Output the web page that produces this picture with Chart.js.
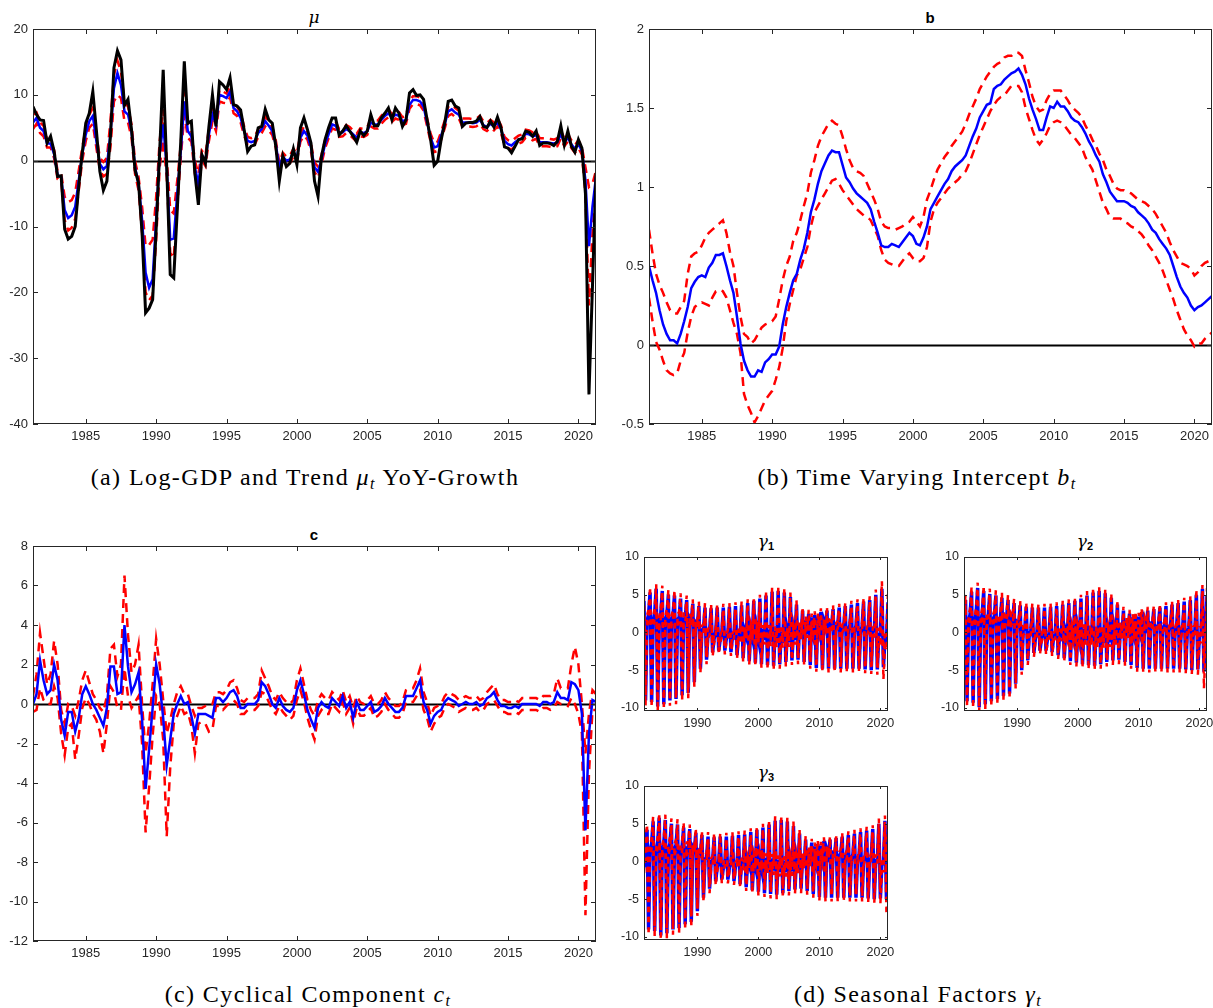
<!DOCTYPE html>
<html>
<head>
<meta charset="utf-8">
<script src="https://cdn.jsdelivr.net/npm/chart.js@4.4.0/dist/chart.umd.min.js"></script>
<style>
  html, body { margin: 0; padding: 0; background: #fff; }
  body { position: relative; width: 1213px; height: 1008px; overflow: hidden; }
  canvas { position: absolute; }
  .ttl { position: absolute; transform: translate(-50%, -50%); font: bold 15px 'Liberation Sans', Arial, sans-serif; color: #000; white-space: nowrap; }
  .ttl .greek { font: italic 17px 'DejaVu Serif', 'Liberation Serif', serif; font-weight: normal; }
  .ttl sub { font: bold 11px 'Liberation Sans', Arial, sans-serif; vertical-align: -3px; }
  .cap { position: absolute; transform: translate(-50%, -50%); font: 24px 'Liberation Serif', 'Times New Roman', serif; letter-spacing: 1.4px; color: #000; white-space: nowrap; }
  .cap sub { font-size: 16px; vertical-align: -4px; }
</style>
</head>
<body>
<div class="ttl" style="left:314px; top:17px;"><span class="greek">μ</span></div>
<div class="ttl" style="left:930px; top:17px;">b</div>
<div class="ttl" style="left:314px; top:534px;">c</div>
<div class="ttl" style="left:766px; top:541px;"><span class="greek">γ</span><sub>1</sub></div>
<div class="ttl" style="left:1085px; top:541px;"><span class="greek">γ</span><sub>2</sub></div>
<div class="ttl" style="left:766px; top:772px;"><span class="greek">γ</span><sub>3</sub></div>

<div class="cap" style="left:305px; top:478px;">(a) Log-GDP and Trend <i>μ<sub>t</sub></i> YoY-Growth</div>
<div class="cap" style="left:917px; top:478px;">(b) Time Varying Intercept <i>b<sub>t</sub></i></div>
<div class="cap" style="left:308px; top:995px;">(c) Cyclical Component <i>c<sub>t</sub></i></div>
<div class="cap" style="left:918px; top:995px;">(d) Seasonal Factors <i>γ<sub>t</sub></i></div>

<canvas id="chartMu"></canvas>
<canvas id="chartB"></canvas>
<canvas id="chartC"></canvas>
<canvas id="chartG1"></canvas>
<canvas id="chartG2"></canvas>
<canvas id="chartG3"></canvas>

<script>
// quarterly series, first point 1981Q2 (x = 1981.25), last 2021Q2 (x = 2021.25)
const START_YEAR = 1981.25;

// tick labels
const yearTicks = [1985, 1990, 1995, 2000, 2005, 2010, 2015, 2020];
const decadeTicks = [1990, 2000, 2010, 2020];
const muTicks = [-40, -30, -20, -10, 0, 10, 20];
const bTicks = [-0.5, 0, 0.5, 1, 1.5, 2];
const cTicks = [-12, -10, -8, -6, -4, -2, 0, 2, 4, 6, 8];
const gammaTicks = [-10, -5, 0, 5, 10];

// (a) log-GDP YoY growth (black) and trend mu (blue) with bands (red)
const gdpGrowth = [
  8.2, 7.0, 6.2, 6.1, 2.7, 3.7, 1.4, -2.4, -2.3, -10.4, -11.9, -11.5, -10.0, -3.9, 1.2, // 1981-84
  5.7, 7.2, 10.5, 4.7, -1.6, -4.5, -3.1, 3.7, 14.1, 16.7, 15.3, 8.4, 9.3, 4.7, -1.4, -3.4, // 1985-88
  -11.0, -23.1, -22.4, -21.1, -10.5, 1.5, 13.8, -0.9, -17.3, -17.8, -7.5, 3.0, 15.1, 5.7, 6.0, -1.9, // 1989-92
  -6.7, 0.9, -0.4, 5.2, 10.0, 5.2, 12.0, 11.5, 10.8, 12.6, 8.5, 8.3, 7.7, 4.7, 1.4, 2.2, // 1993-96
  2.4, 5.0, 5.2, 7.8, 6.2, 5.7, 2.2, -3.1, 0.7, -0.9, -0.4, 1.8, -0.6, 5.0, 6.5, 4.7, // 1997-2000
  2.7, -3.1, -5.4, 0.7, 3.2, 5.0, 6.5, 6.5, 3.9, 4.5, 5.3, 4.5, 3.7, 2.8, 4.5, 3.8, // 2001-04
  4.5, 7.0, 5.3, 5.3, 6.5, 7.2, 8.0, 6.2, 8.0, 7.2, 5.2, 6.2, 10.3, 10.8, 9.9, 10.0, // 2005-08
  9.3, 6.2, 3.2, -0.7, -0.1, 3.2, 5.7, 9.0, 9.2, 8.3, 8.0, 5.2, 5.7, 5.8, 5.8, 6.0, // 2009-12
  6.7, 5.2, 5.0, 6.0, 5.1, 6.6, 5.0, 2.1, 1.9, 1.2, 2.2, 3.2, 3.3, 4.5, 4.3, 3.7, // 2013-16
  4.5, 2.3, 2.7, 2.7, 2.6, 2.3, 2.9, 5.3, 2.4, 4.5, 2.2, 1.3, 3.2, 1.9, -5.0, -35.5, // 2017-20
  -19.0, -1.9 // 2021
];
const trendMu = [
  5.8, 6.5, 5.0, 4.5, 2.6, 2.6, 1.0, -2.2, -2.5, -7.5, -8.7, -8.3, -7.0, -3.0, 1.0,
  4.0, 6.0, 6.8, 3.0, -0.5, -1.3, -0.8, 4.0, 11.0, 13.3, 11.5, 7.5, 7.0, 4.5, -1.0, -3.5,
  -9.0, -17.0, -19.3, -18.0, -9.0, 1.0, 5.5, -1.0, -12.0, -11.8, -5.0, 1.5, 9.0, 4.5, 3.7, -1.0,
  -3.5, 0.8, 0.0, 4.0, 7.0, 5.5, 10.0, 9.8, 9.5, 10.5, 8.0, 7.5, 6.5, 4.5, 3.0, 2.8,
  3.0, 4.2, 4.8, 6.0, 5.3, 4.5, 2.5, -1.0, 0.6, 0.0, 0.2, 1.2, 0.5, 3.5, 4.5, 3.8,
  2.0, -1.0, -1.7, 0.2, 2.5, 4.0, 5.5, 5.3, 4.2, 4.3, 4.8, 4.5, 4.0, 3.5, 4.3, 4.2,
  4.5, 5.8, 5.5, 5.5, 6.2, 6.8, 7.2, 6.5, 7.0, 6.8, 6.0, 6.2, 8.5, 9.2, 9.2, 9.0,
  8.2, 5.8, 3.5, 2.0, 2.2, 3.8, 5.5, 7.5, 7.8, 7.3, 7.0, 5.8, 5.8, 5.8, 5.7, 5.8,
  6.2, 5.4, 5.1, 5.6, 5.2, 5.8, 4.8, 3.0, 2.5, 2.3, 2.8, 3.2, 3.4, 4.1, 4.0, 3.7,
  3.9, 2.8, 2.8, 2.8, 2.7, 2.6, 2.8, 4.0, 2.8, 3.5, 2.5, 1.8, 2.5, 1.5, -3.0, -13.0,
  -7.0, -2.5
];
const muUpper = [
  7.0, 7.3, 5.8, 5.3, 3.2, 3.2, 1.6, -1.6, -1.9, -5.5, -6.3, -6.0, -4.8, -1.5, 2.0,
  5.0, 7.0, 8.0, 4.0, 0.4, -0.2, 0.4, 6.0, 13.0, 15.2, 13.5, 9.0, 8.2, 5.5, 0.0, -2.5,
  -7.0, -13.0, -12.8, -12.0, -5.5, 3.0, 7.8, 0.5, -7.5, -8.0, -3.0, 2.5, 10.5, 5.5, 4.5, 0.0,
  -2.0, 1.5, 0.8, 5.0, 8.0, 6.5, 10.8, 10.5, 10.2, 11.2, 8.8, 8.2, 7.2, 5.2, 3.6, 3.4,
  3.6, 4.8, 5.4, 6.7, 6.0, 5.1, 3.1, -0.3, 1.2, 0.6, 0.8, 1.8, 1.1, 4.1, 5.2, 4.4,
  2.6, -0.3, -0.9, 0.9, 3.1, 4.6, 6.1, 5.9, 4.8, 4.9, 5.4, 5.1, 4.6, 4.1, 4.9, 4.8,
  5.1, 6.4, 6.1, 6.1, 6.8, 7.4, 7.8, 7.1, 7.6, 7.4, 6.6, 6.8, 9.1, 9.8, 9.8, 9.6,
  8.8, 6.4, 4.1, 2.7, 2.9, 4.4, 6.1, 8.2, 8.5, 8.0, 7.6, 6.4, 6.4, 6.4, 6.3, 6.4,
  6.8, 6.0, 5.7, 6.2, 5.8, 6.4, 5.4, 3.6, 3.1, 2.9, 3.4, 3.8, 4.0, 4.7, 4.6, 4.3,
  4.5, 3.4, 3.4, 3.4, 3.3, 3.2, 3.4, 4.6, 3.4, 4.1, 3.1, 2.4, 3.1, 2.1, -1.0, -4.0,
  -3.5, -1.5
];
const muLower = [
  4.8, 5.6, 4.2, 3.7, 2.0, 2.0, 0.4, -2.8, -3.1, -9.0, -10.6, -10.2, -8.8, -4.5, 0.0,
  3.0, 5.0, 5.6, 2.0, -1.4, -2.4, -2.0, 2.0, 9.0, 10.0, 9.5, 6.0, 5.8, 3.5, -2.0, -4.5,
  -11.0, -20.0, -21.2, -20.5, -12.0, -1.0, 3.2, -2.5, -14.0, -14.8, -7.0, 0.5, 7.0, 3.5, 2.9, -2.0,
  -5.0, 0.1, -0.8, 3.0, 6.0, 4.5, 9.0, 8.8, 8.7, 9.6, 7.2, 6.8, 5.8, 3.8, 2.4, 2.2,
  2.4, 3.6, 4.2, 5.2, 4.6, 3.9, 1.9, -1.7, 0.0, -0.6, -0.4, 0.6, -0.1, 2.9, 3.8, 3.2,
  1.4, -1.7, -2.6, -0.5, 1.9, 3.4, 4.9, 4.7, 3.6, 3.7, 4.2, 3.9, 3.4, 2.9, 3.7, 3.6,
  3.9, 5.2, 4.9, 4.9, 5.6, 6.2, 6.6, 5.9, 6.4, 6.2, 5.4, 5.6, 7.9, 8.6, 8.6, 8.4,
  7.6, 5.2, 2.9, 1.3, 1.5, 3.2, 4.9, 6.8, 7.1, 6.6, 6.4, 5.2, 5.2, 5.2, 5.1, 5.2,
  5.6, 4.8, 4.5, 5.0, 4.6, 5.2, 4.2, 2.4, 1.9, 1.7, 2.2, 2.6, 2.8, 3.5, 3.4, 3.1,
  3.3, 2.2, 2.2, 2.2, 2.1, 2.0, 2.2, 3.4, 2.2, 2.9, 1.9, 1.2, 1.9, 0.9, -5.0, -22.0,
  -11.0, -3.5
];

// (b) time varying intercept
const interceptB = [
  0.50, 0.41, 0.33, 0.22, 0.13, 0.07, 0.03, 0.03, 0.01, 0.07, 0.15, 0.24, 0.36, 0.40, 0.43,
  0.44, 0.43, 0.49, 0.52, 0.57, 0.57, 0.58, 0.50, 0.41, 0.33, 0.18, 0.01, -0.10, -0.16, -0.20, -0.20,
  -0.16, -0.17, -0.11, -0.09, -0.06, -0.06, -0.01, 0.13, 0.24, 0.33, 0.41, 0.45, 0.54, 0.61, 0.71, 0.84,
  0.92, 1.02, 1.10, 1.15, 1.20, 1.23, 1.22, 1.22, 1.14, 1.06, 1.03, 0.99, 0.96, 0.94, 0.92, 0.90,
  0.86, 0.78, 0.71, 0.63, 0.62, 0.62, 0.64, 0.63, 0.62, 0.65, 0.68, 0.71, 0.69, 0.64, 0.63, 0.68,
  0.75, 0.86, 0.90, 0.94, 0.98, 1.02, 1.05, 1.10, 1.13, 1.15, 1.17, 1.20, 1.26, 1.32, 1.37, 1.44,
  1.48, 1.52, 1.53, 1.62, 1.64, 1.65, 1.68, 1.70, 1.72, 1.73, 1.75, 1.71, 1.65, 1.56, 1.49, 1.43,
  1.36, 1.36, 1.44, 1.51, 1.50, 1.54, 1.51, 1.51, 1.48, 1.44, 1.42, 1.41, 1.38, 1.34, 1.29, 1.25,
  1.20, 1.16, 1.08, 1.03, 0.97, 0.94, 0.91, 0.91, 0.91, 0.90, 0.88, 0.87, 0.84, 0.82, 0.80, 0.77,
  0.73, 0.71, 0.67, 0.64, 0.61, 0.57, 0.50, 0.43, 0.37, 0.33, 0.30, 0.25, 0.22, 0.24, 0.25, 0.27,
  0.29, 0.31
];
const bUpper = [
  0.73, 0.58, 0.45, 0.38, 0.33, 0.27, 0.22, 0.20, 0.20, 0.24, 0.28, 0.45, 0.56, 0.58, 0.59,
  0.63, 0.68, 0.71, 0.73, 0.75, 0.77, 0.79, 0.71, 0.59, 0.50, 0.33, 0.18, 0.07, 0.05, 0.01, 0.03,
  0.07, 0.11, 0.13, 0.14, 0.15, 0.18, 0.29, 0.41, 0.50, 0.56, 0.66, 0.71, 0.79, 0.88, 0.96, 1.09,
  1.17, 1.26, 1.32, 1.36, 1.40, 1.42, 1.40, 1.39, 1.32, 1.24, 1.17, 1.12, 1.10, 1.09, 1.07, 1.02,
  0.97, 0.92, 0.86, 0.78, 0.75, 0.74, 0.74, 0.73, 0.74, 0.75, 0.77, 0.78, 0.81, 0.78, 0.75, 0.81,
  0.92, 0.98, 1.05, 1.11, 1.15, 1.19, 1.22, 1.26, 1.29, 1.32, 1.35, 1.40, 1.46, 1.51, 1.56, 1.62,
  1.66, 1.70, 1.73, 1.76, 1.78, 1.79, 1.82, 1.83, 1.83, 1.85, 1.85, 1.83, 1.74, 1.66, 1.57, 1.51,
  1.48, 1.49, 1.55, 1.59, 1.61, 1.61, 1.61, 1.58, 1.55, 1.51, 1.49, 1.47, 1.44, 1.39, 1.35, 1.30,
  1.26, 1.21, 1.17, 1.11, 1.07, 1.02, 0.99, 0.98, 0.98, 0.97, 0.96, 0.94, 0.92, 0.91, 0.90, 0.88,
  0.86, 0.83, 0.79, 0.75, 0.71, 0.65, 0.60, 0.56, 0.52, 0.51, 0.50, 0.48, 0.44, 0.46, 0.50, 0.52,
  0.53, 0.55
];
const bLower = [
  0.30, 0.15, 0.02, -0.03, -0.10, -0.16, -0.18, -0.19, -0.18, -0.10, -0.05, 0.08, 0.18, 0.24, 0.26,
  0.27, 0.26, 0.25, 0.30, 0.34, 0.35, 0.34, 0.30, 0.22, 0.14, 0.07, -0.05, -0.31, -0.38, -0.43, -0.49,
  -0.45, -0.40, -0.35, -0.32, -0.29, -0.22, -0.14, -0.02, 0.15, 0.26, 0.35, 0.44, 0.48, 0.55, 0.62, 0.75,
  0.84, 0.88, 0.92, 0.96, 1.00, 1.04, 1.05, 1.02, 0.98, 0.95, 0.92, 0.89, 0.86, 0.84, 0.82, 0.81,
  0.79, 0.74, 0.69, 0.60, 0.54, 0.52, 0.51, 0.50, 0.50, 0.53, 0.56, 0.58, 0.55, 0.53, 0.53, 0.55,
  0.62, 0.78, 0.86, 0.90, 0.93, 0.96, 0.99, 1.01, 1.03, 1.05, 1.08, 1.10, 1.15, 1.21, 1.27, 1.33,
  1.38, 1.43, 1.48, 1.52, 1.55, 1.57, 1.58, 1.61, 1.64, 1.64, 1.64, 1.60, 1.50, 1.43, 1.36, 1.30,
  1.27, 1.30, 1.34, 1.39, 1.41, 1.42, 1.41, 1.39, 1.36, 1.33, 1.31, 1.28, 1.25, 1.19, 1.15, 1.11,
  1.04, 0.97, 0.90, 0.86, 0.81, 0.80, 0.80, 0.80, 0.78, 0.77, 0.75, 0.74, 0.72, 0.70, 0.67, 0.63,
  0.60, 0.56, 0.52, 0.47, 0.41, 0.35, 0.29, 0.22, 0.16, 0.10, 0.06, 0.03, -0.01, 0.01, 0.01, 0.04,
  0.06, 0.08
];

// (c) cyclical component
const cycleC = [
  0.0, 0.5, 2.2, 1.2, 0.5, 0.7, 2.0, 1.2, -0.8, -1.6, -0.4, -0.4, -1.4, -0.7, 0.5,
  0.9, 0.5, 0.0, -0.3, -0.7, -1.1, -0.2, 1.9, 1.9, 0.5, 0.6, 4.0, 1.9, 0.6, 1.0, 1.6,
  -0.8, -4.3, -2.3, -0.2, 2.0, 1.0, -0.7, -3.1, -1.8, -0.5, 0.0, 0.4, 0.0, 0.1, -0.6, -1.5,
  -0.5, -0.5, -0.5, -0.6, -0.7, 0.3, 0.3, 0.1, 0.3, 0.6, 0.7, 0.4, -0.2, -0.2, 0.0, 0.0,
  0.0, 0.2, 1.1, 0.9, 0.5, 0.0, -0.2, 0.3, -0.1, -0.3, -0.4, -0.2, 0.7, 1.2, 0.5, -0.3,
  -0.8, -1.2, -0.2, 0.1, -0.1, -0.2, 0.3, 0.1, -0.1, 0.4, -0.2, 0.1, -0.7, 0.1, -0.3, -0.3,
  -0.1, 0.1, -0.4, -0.3, -0.1, 0.3, 0.0, -0.2, -0.4, -0.4, -0.2, 0.4, 0.4, 0.4, 0.8, 1.2,
  0.1, -0.3, -1.0, -0.6, -0.4, -0.3, 0.1, 0.3, 0.2, 0.1, -0.1, 0.0, 0.1, 0.0, 0.0, 0.1,
  -0.1, 0.0, 0.3, 0.4, 0.6, 0.2, -0.1, -0.1, -0.2, -0.2, -0.1, -0.2, 0.0, 0.0, 0.0, 0.0,
  0.0, -0.1, 0.1, 0.1, 0.0, 0.1, 0.6, 0.3, 0.3, 0.2, 1.1, 1.0, 0.7, -0.5, -6.4, -1.5,
  0.2, 0.1
];
const cUpper = [
  0.4, 1.5, 3.6, 2.3, 1.0, 1.5, 3.2, 2.0, -0.3, -1.0, 0.0, -0.1, -0.6, 0.2, 1.2,
  1.7, 1.1, 0.5, 0.2, -0.2, -0.4, 0.4, 2.8, 3.0, 1.4, 2.0, 6.5, 3.5, 1.6, 2.0, 3.0,
  0.0, -2.5, -1.0, 1.0, 3.3, 2.0, 0.2, -1.5, -0.8, 0.0, 0.6, 0.9, 0.5, 0.5, -0.1, -0.6,
  -0.2, -0.2, -0.1, 0.0, 0.0, 0.6, 0.6, 0.5, 0.7, 1.1, 1.2, 0.8, 0.2, 0.1, 0.3, 0.3,
  0.3, 0.5, 1.7, 1.3, 0.9, 0.4, 0.2, 0.6, 0.3, 0.1, 0.0, 0.2, 1.2, 1.8, 1.0, 0.2,
  -0.3, -0.6, 0.2, 0.5, 0.3, 0.2, 0.6, 0.4, 0.2, 0.7, 0.1, 0.4, -0.2, 0.4, 0.1, 0.0,
  0.2, 0.4, 0.0, 0.0, 0.2, 0.6, 0.3, 0.1, -0.1, -0.1, 0.1, 0.7, 0.8, 0.8, 1.2, 1.8,
  0.6, 0.1, -0.6, -0.2, -0.1, 0.0, 0.4, 0.6, 0.5, 0.4, 0.2, 0.3, 0.4, 0.3, 0.3, 0.4,
  0.2, 0.3, 0.6, 0.8, 1.0, 0.5, 0.2, 0.2, 0.1, 0.1, 0.2, 0.1, 0.3, 0.3, 0.3, 0.3,
  0.3, 0.2, 0.4, 0.4, 0.4, 0.5, 1.3, 0.8, 0.8, 0.8, 2.0, 2.9, 2.0, 0.0, -2.5, -0.5,
  0.7, 0.5
];
const cLower = [
  -0.4, -0.3, 0.8, 0.2, 0.0, 0.0, 0.9, 0.3, -1.5, -2.6, -1.2, -1.0, -2.8, -1.6, -0.2,
  0.3, 0.0, -0.5, -0.8, -1.4, -2.5, -1.0, 0.9, 0.6, -0.2, -0.3, 1.8, 0.4, -0.2, 0.1, 0.4,
  -2.0, -6.5, -4.2, -1.6, 0.4, 0.0, -1.8, -6.7, -3.2, -1.0, -0.6, -0.1, -0.5, -0.4, -1.1, -2.5,
  -1.0, -0.9, -1.0, -1.4, -1.3, -0.1, -0.1, -0.3, -0.1, 0.1, 0.2, 0.0, -0.5, -0.5, -0.3, -0.3,
  -0.3, -0.1, 0.6, 0.5, 0.1, -0.3, -0.5, -0.1, -0.4, -0.6, -0.8, -0.6, 0.2, 0.7, 0.1, -0.7,
  -1.3, -1.8, -0.6, -0.3, -0.5, -0.5, 0.0, -0.2, -0.4, 0.1, -0.5, -0.2, -1.0, -0.2, -0.6, -0.6,
  -0.4, -0.2, -0.7, -0.6, -0.4, 0.0, -0.3, -0.5, -0.7, -0.7, -0.5, 0.1, 0.1, 0.1, 0.4, 0.7,
  -0.3, -0.7, -1.4, -1.0, -0.7, -0.6, -0.2, 0.0, -0.1, -0.2, -0.4, -0.3, -0.2, -0.3, -0.3, -0.2,
  -0.4, -0.3, 0.0, 0.1, 0.2, -0.1, -0.4, -0.4, -0.5, -0.5, -0.4, -0.5, -0.3, -0.3, -0.3, -0.3,
  -0.3, -0.4, -0.2, -0.2, -0.3, -0.2, 0.1, 0.0, 0.0, -0.1, 0.3, 0.0, -0.5, -1.5, -10.7, -3.5,
  -0.3, -0.3
];

// (d) seasonal factors gamma_1..3
const gamma1 = [
  4.2, -9.0, 1.5, 2.4, 5.3, -9.2, 1.3, 2.6, 5.8, -9.8, 1.4, 2.5, 5.5, -9.5, 1.5,
  2.4, 5.0, -9.0, 1.6, 2.2, 4.9, -8.8, 1.7, 2.0, 4.5, -8.3, 1.8, 1.8, 4.3, -8.0, 1.9,
  1.5, 3.8, -6.6, 1.3, 1.0, 3.5, -4.8, 0.3, 0.5, 3.3, -3.6, -0.2, 0.2, 3.2, -2.6, -0.8,
  0.0, 3.3, -2.4, -0.9, -0.1, 3.3, -2.4, -0.8, -0.2, 3.4, -2.6, -0.6, -0.3, 3.5, -3.0, -0.2,
  -0.4, 3.6, -3.4, 0.2, -0.5, 3.9, -3.8, 0.4, -0.6, 4.2, -4.0, 0.4, -0.8, 4.5, -4.2, 0.5,
  -1.0, 4.9, -4.3, 0.4, -1.2, 5.4, -4.4, 0.2, -1.4, 5.5, -4.2, 0.1, -1.4, 5.3, -3.9, 0.0,
  -1.3, 4.7, -3.7, 0.3, -1.0, 3.7, -3.6, 0.9, -0.6, 2.9, -3.9, 1.6, -0.2, 2.5, -4.3, 2.0,
  0.3, 2.3, -4.7, 2.1, 0.6, 2.7, -4.8, 1.5, 0.8, 2.9, -4.8, 1.1, 0.9, 3.1, -4.8, 0.8,
  1.0, 3.3, -4.8, 0.5, 1.0, 3.5, -4.8, 0.3, 1.0, 3.7, -4.8, 0.1, 0.9, 3.9, -4.8, 0.0,
  0.8, 4.1, -4.9, 0.0, 0.6, 4.3, -5.0, 0.1, 0.2, 5.0, -4.9, -0.3, -0.3, 5.8, -4.6, -0.9,
  -1.0, 4.0
];
const gamma1Upper = [
  4.9, -8.3, 2.2, 3.1, 6.0, -8.5, 2.0, 3.3, 6.4, -9.1, 2.1, 3.2, 6.2, -8.8, 2.2,
  3.1, 5.7, -8.3, 2.3, 2.9, 5.6, -8.1, 2.4, 2.7, 5.2, -7.6, 2.5, 2.5, 4.9, -7.3, 2.5,
  2.1, 4.4, -6.0, 1.9, 1.6, 4.1, -4.2, 0.9, 1.1, 3.9, -3.0, 0.4, 0.8, 3.8, -2.0, -0.2,
  0.5, 3.8, -1.9, -0.4, 0.4, 3.8, -1.9, -0.3, 0.3, 3.9, -2.1, -0.1, 0.2, 4.0, -2.5, 0.3,
  0.1, 4.1, -2.9, 0.7, 0.0, 4.4, -3.3, 0.9, -0.1, 4.7, -3.5, 0.9, -0.3, 5.0, -3.7, 1.0,
  -0.4, 5.5, -3.7, 1.0, -0.6, 6.0, -3.8, 0.8, -0.8, 6.1, -3.6, 0.7, -0.8, 5.9, -3.3, 0.6,
  -0.7, 5.3, -3.1, 0.9, -0.4, 4.3, -3.0, 1.5, -0.1, 3.4, -3.4, 2.1, 0.3, 3.0, -3.8, 2.5,
  0.8, 2.8, -4.2, 2.6, 1.1, 3.2, -4.3, 2.0, 1.3, 3.4, -4.3, 1.6, 1.4, 3.6, -4.3, 1.3,
  1.5, 3.8, -4.3, 1.0, 1.5, 4.0, -4.3, 0.8, 1.5, 4.2, -4.3, 0.6, 1.4, 4.4, -4.3, 0.5,
  1.3, 4.6, -4.4, 0.5, 1.1, 4.8, -4.5, 0.6, 0.9, 5.7, -4.2, 0.4, 0.7, 6.8, -3.6, 0.1,
  0.4, 5.4
];
const gamma1Lower = [
  3.5, -9.7, 0.8, 1.7, 4.6, -9.9, 0.6, 1.9, 5.2, -10.4, 0.7, 1.8, 4.8, -10.2, 0.8,
  1.7, 4.3, -9.7, 0.9, 1.5, 4.2, -9.5, 1.0, 1.3, 3.8, -9.0, 1.1, 1.1, 3.7, -8.7, 1.3,
  0.9, 3.2, -7.2, 0.7, 0.4, 2.9, -5.4, -0.3, -0.1, 2.7, -4.2, -0.8, -0.4, 2.6, -3.2, -1.4,
  -0.5, 2.8, -2.9, -1.4, -0.6, 2.8, -2.9, -1.3, -0.7, 2.9, -3.1, -1.1, -0.8, 3.0, -3.5, -0.7,
  -0.9, 3.1, -3.9, -0.3, -1.0, 3.4, -4.3, -0.1, -1.1, 3.7, -4.5, -0.1, -1.3, 4.0, -4.7, 0.0,
  -1.6, 4.3, -4.9, -0.2, -1.8, 4.8, -5.0, -0.4, -2.0, 4.9, -4.8, -0.5, -2.0, 4.7, -4.5, -0.6,
  -1.9, 4.1, -4.3, -0.3, -1.6, 3.1, -4.2, 0.3, -1.1, 2.4, -4.4, 1.1, -0.7, 2.0, -4.8, 1.5,
  -0.2, 1.8, -5.2, 1.6, 0.1, 2.2, -5.3, 1.0, 0.3, 2.4, -5.3, 0.6, 0.4, 2.6, -5.3, 0.3,
  0.5, 2.8, -5.3, 0.0, 0.5, 3.0, -5.3, -0.2, 0.5, 3.2, -5.3, -0.4, 0.4, 3.4, -5.3, -0.5,
  0.3, 3.6, -5.4, -0.5, 0.1, 3.8, -5.5, -0.4, -0.5, 4.3, -5.6, -1.0, -1.3, 4.8, -6.2, -1.9,
  -2.4, 2.6
];
const gamma2 = [
  2.3, 4.3, -9.1, 1.5, 2.4, 5.4, -9.3, 1.3, 2.6, 5.9, -9.9, 1.4, 2.5, 5.5, -9.5,
  1.5, 2.4, 5.1, -9.1, 1.6, 2.2, 4.9, -8.8, 1.7, 2.0, 4.6, -8.4, 1.8, 1.8, 4.3, -8.1,
  1.9, 1.5, 3.9, -6.8, 1.3, 1.0, 3.6, -5.0, 0.3, 0.5, 3.4, -3.7, -0.2, 0.2, 3.3, -2.7,
  -0.8, 0.0, 3.3, -2.4, -0.9, -0.1, 3.3, -2.4, -0.8, -0.2, 3.4, -2.6, -0.6, -0.3, 3.5, -3.0,
  -0.2, -0.4, 3.7, -3.4, 0.2, -0.5, 3.9, -3.8, 0.4, -0.6, 4.2, -4.0, 0.4, -0.8, 4.5, -4.2,
  0.5, -1.0, 4.9, -4.3, 0.4, -1.2, 5.3, -4.4, 0.2, -1.4, 5.5, -4.2, 0.1, -1.4, 5.2, -3.9,
  0.0, -1.3, 4.6, -3.7, 0.3, -1.0, 3.7, -3.6, 0.9, -0.6, 2.9, -3.9, 1.6, -0.2, 2.5, -4.3,
  2.0, 0.3, 2.3, -4.7, 2.1, 0.6, 2.7, -4.8, 1.5, 0.8, 2.9, -4.8, 1.1, 0.9, 3.1, -4.8,
  0.8, 1.0, 3.3, -4.8, 0.5, 1.0, 3.5, -4.8, 0.3, 1.0, 3.7, -4.8, 0.1, 0.9, 3.9, -4.8,
  0.0, 0.8, 4.1, -4.9, 0.0, 0.6, 4.3, -5.0, 0.1, 0.2, 5.0, -4.9, -0.3, -0.3, 5.8, -5.2,
  -0.9, 4.9
];
const gamma2Upper = [
  3.0, 5.0, -8.4, 2.2, 3.1, 6.1, -8.6, 2.0, 3.3, 6.6, -9.2, 2.1, 3.2, 6.2, -8.8,
  2.2, 3.1, 5.8, -8.4, 2.3, 2.9, 5.6, -8.1, 2.4, 2.7, 5.3, -7.7, 2.5, 2.5, 5.0, -7.4,
  2.5, 2.1, 4.5, -6.2, 1.9, 1.6, 4.2, -4.4, 0.9, 1.1, 4.0, -3.1, 0.4, 0.8, 3.9, -2.1,
  -0.3, 0.5, 3.8, -1.9, -0.4, 0.4, 3.8, -1.9, -0.3, 0.3, 3.9, -2.1, -0.1, 0.2, 4.0, -2.5,
  0.3, 0.1, 4.2, -2.9, 0.7, 0.0, 4.4, -3.3, 0.9, -0.1, 4.7, -3.5, 0.9, -0.3, 5.0, -3.7,
  1.1, -0.4, 5.5, -3.7, 1.0, -0.6, 5.9, -3.8, 0.8, -0.8, 6.1, -3.6, 0.7, -0.8, 5.8, -3.3,
  0.6, -0.7, 5.2, -3.1, 0.9, -0.4, 4.3, -3.0, 1.4, -0.1, 3.4, -3.4, 2.1, 0.3, 3.0, -3.8,
  2.5, 0.8, 2.8, -4.2, 2.6, 1.1, 3.2, -4.3, 2.0, 1.3, 3.4, -4.3, 1.6, 1.4, 3.6, -4.3,
  1.3, 1.5, 3.8, -4.3, 1.0, 1.5, 4.0, -4.3, 0.8, 1.5, 4.2, -4.3, 0.6, 1.4, 4.4, -4.3,
  0.5, 1.3, 4.6, -4.4, 0.5, 1.1, 4.8, -4.5, 0.8, 0.9, 5.7, -4.2, 0.7, 0.7, 6.3, -3.8,
  0.5, 5.9
];
const gamma2Lower = [
  1.6, 3.6, -9.8, 0.8, 1.7, 4.7, -10.0, 0.6, 1.9, 5.2, -10.5, 0.7, 1.8, 4.8, -10.2,
  0.8, 1.7, 4.4, -9.8, 0.9, 1.5, 4.2, -9.5, 1.0, 1.3, 3.9, -9.1, 1.1, 1.1, 3.6, -8.8,
  1.2, 0.9, 3.3, -7.4, 0.7, 0.4, 3.0, -5.6, -0.3, -0.1, 2.8, -4.3, -0.8, -0.4, 2.7, -3.3,
  -1.3, -0.5, 2.8, -2.9, -1.4, -0.6, 2.8, -2.9, -1.3, -0.7, 2.9, -3.1, -1.1, -0.8, 3.0, -3.5,
  -0.7, -0.9, 3.2, -3.9, -0.3, -1.0, 3.4, -4.3, -0.1, -1.1, 3.7, -4.5, -0.1, -1.3, 4.0, -4.7,
  -0.1, -1.6, 4.3, -4.9, -0.2, -1.8, 4.7, -5.0, -0.4, -2.0, 4.9, -4.8, -0.5, -2.0, 4.6, -4.5,
  -0.6, -1.9, 4.0, -4.3, -0.3, -1.6, 3.1, -4.2, 0.4, -1.1, 2.4, -4.4, 1.1, -0.7, 2.0, -4.8,
  1.5, -0.2, 1.8, -5.2, 1.6, 0.1, 2.2, -5.3, 1.0, 0.3, 2.4, -5.3, 0.6, 0.4, 2.6, -5.3,
  0.3, 0.5, 2.8, -5.3, 0.0, 0.5, 3.0, -5.3, -0.2, 0.5, 3.2, -5.3, -0.4, 0.4, 3.4, -5.3,
  -0.5, 0.3, 3.6, -5.4, -0.5, 0.1, 3.8, -5.5, -0.6, -0.5, 4.3, -5.6, -1.3, -1.3, 5.3, -7.4,
  -2.3, 3.9
];
const gamma3 = [
  -0.8, 2.4, 4.2, -9.0, 1.5, 2.4, 5.3, -9.2, 1.3, 2.6, 5.8, -9.8, 1.4, 2.5, 5.5,
  -9.5, 1.5, 2.4, 5.0, -9.0, 1.6, 2.2, 4.9, -8.8, 1.7, 2.0, 4.5, -8.3, 1.8, 1.8, 4.3,
  -8.0, 1.9, 1.5, 3.8, -6.6, 1.3, 1.0, 3.5, -4.8, 0.3, 0.5, 3.3, -3.6, -0.2, 0.2, 3.2,
  -2.6, -0.8, 0.0, 3.3, -2.4, -0.9, -0.1, 3.3, -2.4, -0.8, -0.2, 3.4, -2.6, -0.6, -0.3, 3.5,
  -3.0, -0.2, -0.4, 3.6, -3.4, 0.2, -0.5, 3.9, -3.8, 0.4, -0.6, 4.2, -4.0, 0.4, -0.8, 4.5,
  -4.2, 0.5, -1.0, 4.9, -4.3, 0.4, -1.2, 5.4, -4.4, 0.2, -1.4, 5.5, -4.2, 0.1, -1.4, 5.3,
  -3.9, 0.0, -1.3, 4.7, -3.7, 0.3, -1.0, 3.7, -3.6, 0.9, -0.6, 2.9, -3.9, 1.6, -0.2, 2.5,
  -4.3, 2.0, 0.3, 2.3, -4.7, 2.1, 0.6, 2.7, -4.8, 1.5, 0.8, 2.9, -4.8, 1.1, 0.9, 3.1,
  -4.8, 0.8, 1.0, 3.3, -4.8, 0.5, 1.0, 3.5, -4.8, 0.3, 1.0, 3.7, -4.8, 0.1, 0.9, 3.9,
  -4.8, 0.0, 0.8, 4.1, -4.9, 0.0, 0.6, 4.3, -5.0, 0.1, 0.2, 5.0, -4.9, -0.3, -0.3, 5.4,
  -5.0, 2.7
];
const gamma3Upper = [
  -0.1, 3.1, 4.9, -8.3, 2.2, 3.1, 6.0, -8.5, 2.0, 3.3, 6.4, -9.1, 2.1, 3.2, 6.2,
  -8.8, 2.2, 3.1, 5.7, -8.3, 2.3, 2.9, 5.6, -8.1, 2.4, 2.7, 5.2, -7.6, 2.5, 2.5, 4.9,
  -7.3, 2.5, 2.1, 4.4, -6.0, 1.9, 1.6, 4.1, -4.2, 0.9, 1.1, 3.9, -3.0, 0.4, 0.8, 3.8,
  -2.1, -0.3, 0.5, 3.8, -1.9, -0.4, 0.4, 3.8, -1.9, -0.3, 0.3, 3.9, -2.1, -0.1, 0.2, 4.0,
  -2.5, 0.3, 0.1, 4.1, -2.9, 0.7, 0.0, 4.4, -3.3, 0.9, -0.1, 4.7, -3.5, 0.9, -0.3, 5.0,
  -3.6, 1.1, -0.4, 5.5, -3.7, 1.0, -0.6, 6.0, -3.8, 0.8, -0.8, 6.1, -3.6, 0.7, -0.8, 5.9,
  -3.3, 0.6, -0.7, 5.3, -3.1, 0.9, -0.4, 4.3, -3.0, 1.4, -0.1, 3.4, -3.4, 2.1, 0.3, 3.0,
  -3.8, 2.5, 0.8, 2.8, -4.2, 2.6, 1.1, 3.2, -4.3, 2.0, 1.3, 3.4, -4.3, 1.6, 1.4, 3.6,
  -4.3, 1.3, 1.5, 3.8, -4.3, 1.0, 1.5, 4.0, -4.3, 0.8, 1.5, 4.2, -4.3, 0.6, 1.4, 4.4,
  -4.3, 0.5, 1.3, 4.6, -4.4, 0.5, 1.1, 4.8, -4.5, 0.8, 0.9, 5.7, -4.0, 0.7, 0.7, 6.1,
  -3.5, 3.6
];
const gamma3Lower = [
  -1.5, 1.7, 3.5, -9.7, 0.8, 1.7, 4.6, -9.9, 0.6, 1.9, 5.2, -10.4, 0.7, 1.8, 4.8,
  -10.2, 0.8, 1.7, 4.3, -9.7, 0.9, 1.5, 4.2, -9.5, 1.0, 1.3, 3.8, -9.0, 1.1, 1.1, 3.7,
  -8.7, 1.3, 0.9, 3.2, -7.2, 0.7, 0.4, 2.9, -5.4, -0.3, -0.1, 2.7, -4.2, -0.8, -0.4, 2.6,
  -3.2, -1.3, -0.5, 2.8, -2.9, -1.4, -0.6, 2.8, -2.9, -1.3, -0.7, 2.9, -3.1, -1.1, -0.8, 3.0,
  -3.5, -0.7, -0.9, 3.1, -3.9, -0.3, -1.0, 3.4, -4.3, -0.1, -1.1, 3.7, -4.5, -0.1, -1.3, 4.0,
  -4.7, -0.1, -1.6, 4.3, -4.9, -0.2, -1.8, 4.8, -5.0, -0.4, -2.0, 4.9, -4.8, -0.5, -2.0, 4.7,
  -4.5, -0.6, -1.9, 4.1, -4.3, -0.3, -1.6, 3.1, -4.2, 0.4, -1.1, 2.4, -4.4, 1.1, -0.7, 2.0,
  -4.8, 1.5, -0.2, 1.8, -5.2, 1.6, 0.1, 2.2, -5.3, 1.0, 0.3, 2.4, -5.3, 0.6, 0.4, 2.6,
  -5.3, 0.3, 0.5, 2.8, -5.3, 0.0, 0.5, 3.0, -5.3, -0.2, 0.5, 3.2, -5.3, -0.4, 0.4, 3.4,
  -5.3, -0.5, 0.3, 3.6, -5.4, -0.5, 0.1, 3.8, -5.5, -0.6, -0.5, 4.3, -5.6, -1.3, -1.3, 4.7,
  -7.0, 1.8
];

// ---- drawing ----
const FONT = "'Liberation Sans', Arial, Helvetica, sans-serif";
const AXIS_COLOR = '#262626';
const AXIS_W = 44, AXIS_H = 26, PAD_T = 8, PAD_R = 8;

// MATLAB-like box with inward ticks on all four sides, plus optional zero line
const matlabAxes = {
  id: 'matlabAxes',
  beforeDatasetsDraw(chart, args, opts) {
    if (!opts.zeroLine) return;
    const { ctx, chartArea: a } = chart;
    const y0 = Math.round(chart.scales.y.getPixelForValue(0)) + 0.5;
    ctx.save();
    ctx.strokeStyle = '#000';
    ctx.lineWidth = 2;
    ctx.beginPath();
    ctx.moveTo(a.left, y0);
    ctx.lineTo(a.right, y0);
    ctx.stroke();
    ctx.restore();
  },
  afterDatasetsDraw(chart, args, opts) {
    const { ctx, chartArea: a } = chart;
    const xs = chart.scales.x, ys = chart.scales.y;
    const len = opts.tickLen || 5;
    ctx.save();
    ctx.strokeStyle = AXIS_COLOR;
    ctx.lineWidth = 1;
    ctx.strokeRect(a.left + 0.5, a.top + 0.5, a.right - a.left - 1, a.bottom - a.top - 1);
    ctx.beginPath();
    xs.ticks.forEach(t => {
      const px = Math.round(xs.getPixelForValue(t.value)) + 0.5;
      ctx.moveTo(px, a.bottom); ctx.lineTo(px, a.bottom - len);
      ctx.moveTo(px, a.top); ctx.lineTo(px, a.top + len);
    });
    ys.ticks.forEach(t => {
      const py = Math.round(ys.getPixelForValue(t.value)) + 0.5;
      ctx.moveTo(a.left, py); ctx.lineTo(a.left + len, py);
      ctx.moveTo(a.right, py); ctx.lineTo(a.right - len, py);
    });
    ctx.stroke();
    ctx.restore();
  }
};

function toPoints(values) {
  return values.map((v, i) => ({ x: START_YEAR + i / 4, y: v }));
}

function line(values, color, width, dash, order) {
  return {
    data: toPoints(values),
    borderColor: color,
    borderWidth: width,
    borderDash: dash,
    pointRadius: 0,
    fill: false,
    tension: 0,
    order: order
  };
}

function makePanel(id, box, datasets, xTicks, yTicks, yMin, yMax, opts) {
  const canvas = document.getElementById(id);
  canvas.width = box.R - box.L + AXIS_W + PAD_R;
  canvas.height = box.B - box.T + PAD_T + AXIS_H;
  canvas.style.left = (box.L - AXIS_W) + 'px';
  canvas.style.top = (box.T - PAD_T) + 'px';

  const tickFont = { family: FONT, size: opts.fontSize };
  new Chart(canvas, {
    type: 'line',
    data: { datasets: datasets },
    options: {
      responsive: false,
      animation: false,
      devicePixelRatio: 1,
      events: [],
      layout: { padding: { left: 0, top: PAD_T, right: PAD_R, bottom: 0 } },
      plugins: {
        legend: { display: false },
        tooltip: { enabled: false },
        matlabAxes: { zeroLine: opts.zeroLine, tickLen: opts.tickLen }
      },
      scales: {
        x: {
          type: 'linear',
          min: 1981.25,
          max: 2021.25,
          afterBuildTicks: s => { s.ticks = xTicks.map(v => ({ value: v })); },
          afterFit: s => { s.height = AXIS_H; s.paddingLeft = 0; s.paddingRight = 0; },
          grid: { display: false, drawTicks: false },
          border: { display: false },
          ticks: { font: tickFont, color: AXIS_COLOR, padding: 5, maxRotation: 0, autoSkip: false, callback: v => String(v) }
        },
        y: {
          min: yMin,
          max: yMax,
          afterBuildTicks: s => { s.ticks = yTicks.map(v => ({ value: v })); },
          afterFit: s => { s.width = AXIS_W; s.paddingTop = 0; s.paddingBottom = 0; },
          grid: { display: false, drawTicks: false },
          border: { display: false },
          ticks: { font: tickFont, color: AXIS_COLOR, padding: 5, autoSkip: false, callback: v => String(v) }
        }
      }
    },
    plugins: [matlabAxes]
  });
}

const RED = '#ff0000', BLUE = '#0000ff', BLACK = '#000000';
const bigDash = [9, 6], smallDash = [5, 5];
const big = { fontSize: 13, tickLen: 5, zeroLine: true };
const small = { fontSize: 12.5, tickLen: 3, zeroLine: false };

makePanel('chartMu', { L: 33, T: 29, R: 596, B: 424 }, [
  line(muUpper, RED, 2.5, bigDash, 3),
  line(muLower, RED, 2.5, bigDash, 2),
  line(trendMu, BLUE, 2.5, [], 1),
  line(gdpGrowth, BLACK, 3, [], 0)
], yearTicks, muTicks, -40, 20, big);

makePanel('chartB', { L: 649, T: 29, R: 1212, B: 424 }, [
  line(bUpper, RED, 2.5, bigDash, 2),
  line(bLower, RED, 2.5, bigDash, 1),
  line(interceptB, BLUE, 2.5, [], 0)
], yearTicks, bTicks, -0.5, 2, big);

makePanel('chartC', { L: 33, T: 546, R: 596, B: 941 }, [
  line(cUpper, RED, 2.5, bigDash, 2),
  line(cLower, RED, 2.5, bigDash, 1),
  line(cycleC, BLUE, 2.5, [], 0)
], yearTicks, cTicks, -12, 8, big);

makePanel('chartG1', { L: 644, T: 557, R: 888, B: 711 }, [
  line(gamma1, BLUE, 3.5, [], 2),
  line(gamma1Upper, RED, 2.5, smallDash, 1),
  line(gamma1Lower, RED, 2.5, smallDash, 0)
], decadeTicks, gammaTicks, -10.4, 10, small);

makePanel('chartG2', { L: 964, T: 557, R: 1207, B: 711 }, [
  line(gamma2, BLUE, 3.5, [], 2),
  line(gamma2Upper, RED, 2.5, smallDash, 1),
  line(gamma2Lower, RED, 2.5, smallDash, 0)
], decadeTicks, gammaTicks, -10.4, 10, small);

makePanel('chartG3', { L: 644, T: 786, R: 888, B: 940 }, [
  line(gamma3, BLUE, 3.5, [], 2),
  line(gamma3Upper, RED, 2.5, smallDash, 1),
  line(gamma3Lower, RED, 2.5, smallDash, 0)
], decadeTicks, gammaTicks, -10.4, 10, small);
</script>
</body>
</html>
